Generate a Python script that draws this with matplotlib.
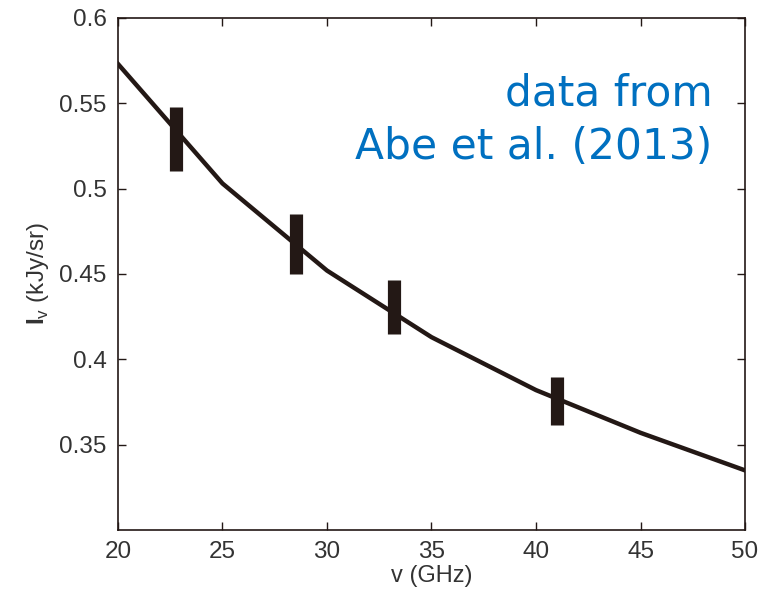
import matplotlib.pyplot as plt

plt.rcParams['font.family'] = ['Liberation Sans', 'DejaVu Sans']
plt.rcParams['mathtext.fontset'] = 'custom'
plt.rcParams['mathtext.rm'] = 'Liberation Sans'
plt.rcParams['mathtext.bf'] = 'Liberation Sans:bold'

# model curve
freq = [20, 25, 30, 35, 40, 45, 50]
model = [0.573, 0.503, 0.452, 0.413, 0.382, 0.357, 0.335]

# measured points (Abe et al. 2013)
obs_freq = [22.8, 28.5, 33.2, 41.0]
obs_lo = [0.510, 0.450, 0.415, 0.3615]
obs_hi = [0.548, 0.485, 0.4465, 0.3897]

ink = '#231815'

fig = plt.figure(figsize=(7.61, 5.93), dpi=100)
ax = fig.add_axes([0.155, 0.106, 0.824, 0.864])

ax.plot(freq, model, color=ink, lw=3.2, solid_joinstyle='round')
ax.vlines(obs_freq, obs_lo, obs_hi, color=ink, lw=9.5, capstyle='butt')

ax.set_xlim(20, 50)
ax.set_ylim(0.3, 0.6)
ax.set_xticks([20, 25, 30, 35, 40, 45, 50])
ax.set_yticks([0.35, 0.4, 0.45, 0.5, 0.55, 0.6])
ax.set_yticklabels(['0.35', '0.4', '0.45', '0.5', '0.55', '0.6'])
ax.tick_params(direction='in', top=True, right=True, length=6, width=1,
               color=ink, labelsize=17.5, labelcolor='#333333', pad=8)
for s in ax.spines.values():
    s.set_color(ink)
    s.set_linewidth(1.2)

ax.set_xlabel('v (GHz)', fontsize=17, color='#333333', labelpad=1)
ax.set_ylabel(r'$\mathbf{I}_{\mathrm{v}}$ (kJy/sr)', fontsize=17.5,
              color='#333333', labelpad=6)

ax.text(0.948, 0.80, 'data from\nAbe et al. (2013)', transform=ax.transAxes,
        ha='right', va='center', fontsize=30.5, color='#0070C0',
        family='DejaVu Sans', linespacing=1.32)

fig.savefig('out.png', dpi=100)
